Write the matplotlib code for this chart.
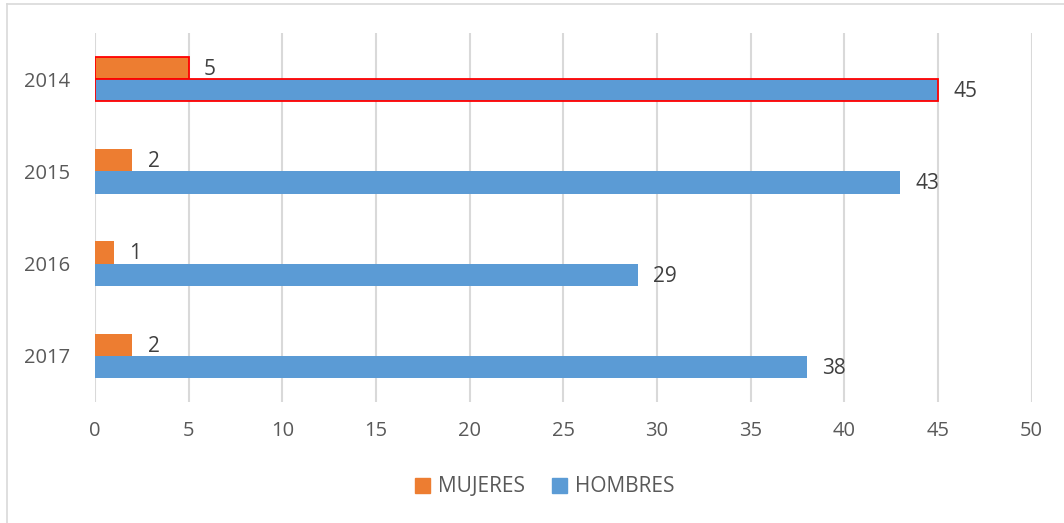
import matplotlib.pyplot as plt
from matplotlib.lines import Line2D
from matplotlib.patches import Patch
import numpy as np

plt.rcParams['font.family'] = ['Open Sans', 'DejaVu Sans']

years = ['2014', '2015', '2016', '2017']
mujeres = [5, 2, 1, 2]
hombres = [45, 43, 29, 38]

orange = '#ED7D31'
blue = '#5B9BD5'
text_color = '#595959'
label_color = '#404040'
grid_color = '#D9D9D9'

W, H = 1064, 523
fig = plt.figure(figsize=(W / 100, H / 100), dpi=100)
ax = fig.add_axes([95 / W, 1 - 402 / H, (1031.5 - 95) / W, (402 - 33) / H])

y = np.arange(len(years))
h = 0.24
bars_m = ax.barh(y - h / 2, mujeres, height=h, color=orange, zorder=3)
bars_h = ax.barh(y + h / 2, hombres, height=h, color=blue, zorder=3)

# red outline on the 2014 bars
for b in (bars_m[0], bars_h[0]):
    b.set_edgecolor('#FF0000')
    b.set_linewidth(1.3)

# value labels
for bars in (bars_m, bars_h):
    for b in bars:
        ax.annotate(f'{int(b.get_width())}',
                    (b.get_width(), b.get_y() + b.get_height() / 2),
                    xytext=(11, -1), textcoords='offset points',
                    ha='left', va='center', fontsize=15, color=label_color)

ax.set_ylim(len(years) - 0.5, -0.5)
ax.set_xlim(0, 50)
ax.set_xticks(range(0, 51, 5))
ax.set_yticks(y)
ax.set_yticklabels(years)
ax.tick_params(axis='both', length=0, labelsize=14.5, labelcolor=text_color)
ax.tick_params(axis='x', pad=14)
ax.tick_params(axis='y', pad=18)
ax.grid(axis='x', color=grid_color, linewidth=1.5, zorder=0)
for s in ax.spines.values():
    s.set_visible(False)

handles = [Patch(color=orange, label='MUJERES'), Patch(color=blue, label='HOMBRES')]
fig.legend(handles=handles, loc='center', bbox_to_anchor=(545 / W, 1 - 487 / H),
           ncol=2, frameon=False, fontsize=15, labelcolor=text_color,
           handlelength=0.7, handleheight=0.7, handletextpad=0.4, columnspacing=1.3)

# chart border (top and left)
fig.add_artist(Line2D([7 / W, 1], [1 - 4 / H, 1 - 4 / H], color='#D9D9D9', lw=1.2))
fig.add_artist(Line2D([7 / W, 7 / W], [0, 1 - 4 / H], color='#D9D9D9', lw=1.2))

fig.savefig('out.png', dpi=100)
